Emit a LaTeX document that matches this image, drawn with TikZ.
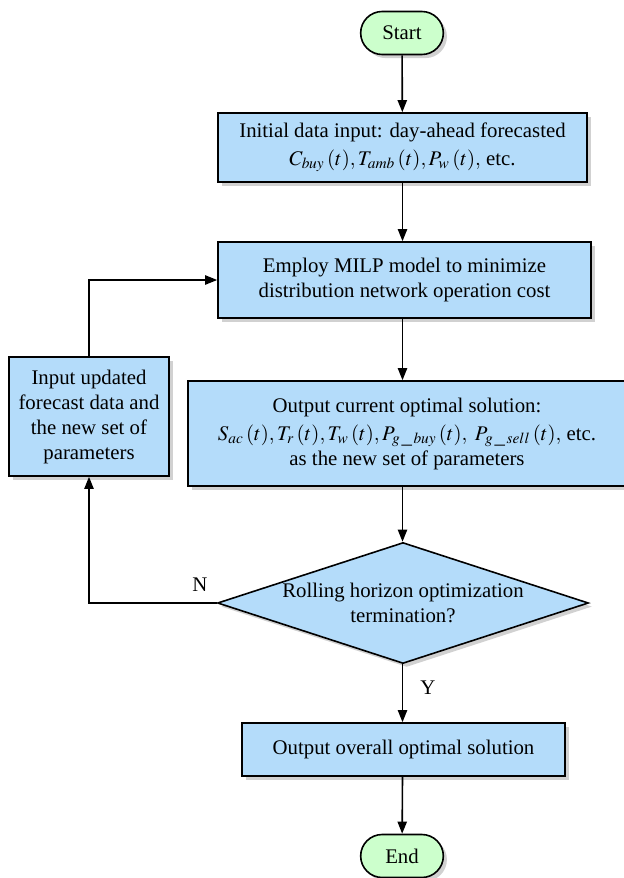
\documentclass[tikz,border=0pt]{standalone}
\usepackage{mathptmx}
\usepackage{fontspec}
\setmainfont{Liberation Serif}
\usetikzlibrary{arrows.meta, positioning, shapes.geometric, shapes.misc, shadows}

\definecolor{boxblue}{RGB}{180,220,250}
\definecolor{termgreen}{RGB}{204,255,204}

\begin{document}
\begin{tikzpicture}[
    x=0.5pt, y=-0.5pt,
    shade/.style={drop shadow={shadow xshift=1.8pt, shadow yshift=-1.8pt, fill=black!18, opacity=1}},
    term/.style={rounded rectangle, draw, thick, fill=termgreen, shade, minimum width=48pt, minimum height=21.5pt, font=\fontsize{10.4}{12.5}\selectfont},
    proc/.style={rectangle, draw, thick, fill=boxblue, shade, align=center, inner sep=1pt, font=\fontsize{10.4}{12.5}\selectfont},
    decis/.style={diamond, draw, thick, fill=boxblue, shade, align=center, inner sep=0pt, aspect=3.07, minimum width=185.5pt, minimum height=60.5pt, font=\fontsize{10.4}{12.5}\selectfont},
    flow/.style={draw, thick, -{Triangle[length=6pt, width=4.6pt]}},
    lbl/.style={font=\fontsize{10.4}{12.5}\selectfont}
]
    \useasboundingbox (0,0) rectangle (623,878);

    % main column
    \node[term] (start) at (402,33) {Start};
    \node[proc, minimum width=184.5pt, minimum height=34.5pt] (init) at (402.5,147.5)
        {Initial data input: day-ahead forecasted\\[1.5pt]
         $C_{buy}\,(t),T_{amb}\,(t),P_{w}\,(t),$ etc.};
    \node[proc, minimum width=186.5pt, minimum height=38pt] (milp) at (404.5,280)
        {Employ MILP model to minimize\\distribution network operation cost};
    \node[proc, minimum width=219pt, minimum height=52.5pt] (outc) at (407,433.5)
        {Output current optimal solution:\\[1.5pt]
         $S_{ac}\,(t),T_{r}\,(t),T_{w}\,(t),P_{g\,\_\,buy}\,(t),\ P_{g\,\_\,sell}\,(t),$ etc.\\
         as the new set of parameters};
    \node[decis] (roll) at (403,603) {Rolling horizon optimization\\termination?};
    \node[proc, minimum width=161.5pt, minimum height=26.5pt] (outo) at (403.5,749.5)
        {Output overall optimal solution};
    \node[term] (end) at (402,856) {End};

    % feedback box
    \node[proc, minimum width=80pt, minimum height=59.5pt] (upd) at (89,416.5)
        {Input updated\\forecast data and\\the new set of\\parameters};

    \draw[flow] (start) -- (init);
    \draw[flow] (init) -- (milp.north -| init.south);
    \draw[flow] (milp.south -| init.south) -- (outc.north -| init.south);
    \draw[flow] (outc.south -| init.south) -- (roll.north -| init.south);
    \draw[flow] (roll.south -| init.south) -- (outo.north -| init.south);
    \draw[flow] (outo.south -| init.south) -- (end);

    \draw[flow] (roll.west) -| (upd.south);
    \draw[flow] (upd.north) |- (milp.west);

    \node[lbl] (nlab) at (200,585) {N};
    \node[lbl] (ylab) at (428,688) {Y};
\end{tikzpicture}
\end{document}
